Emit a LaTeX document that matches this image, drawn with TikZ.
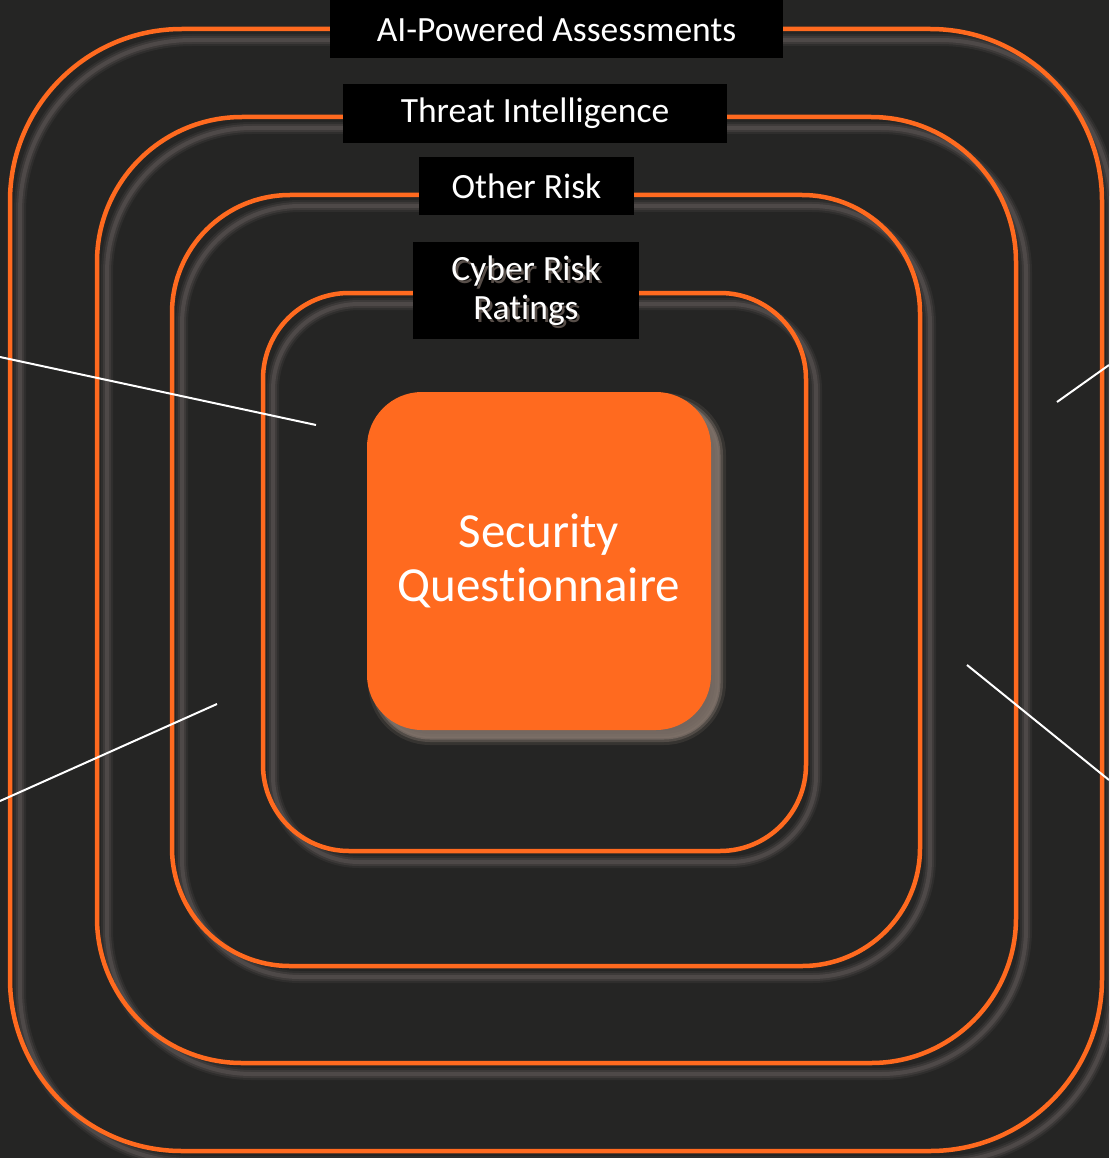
\documentclass[tikz,border=0pt]{standalone}
\usepackage{fontspec}
\setmainfont{Carlito}[RawFeature=-liga]
\definecolor{bgdark}{RGB}{37,37,36}
\definecolor{ringorange}{RGB}{255,106,31}
\definecolor{glowgray}{RGB}{96,88,88}
\definecolor{boxshade}{RGB}{125,112,104}
\tikzset{
  ring/.style={draw=ringorange, line width=4.5pt, rectangle, inner sep=0pt},
  ringglow/.style={draw=glowgray, rectangle, inner sep=0pt},
  tagfont/.style={font=\fontsize{35.5}{39}\selectfont},
  tag/.style={fill=black, text=white, tagfont, inner sep=0pt, align=center},
  pointer/.style={draw=white, line width=2pt},
}

\begin{document}
\begin{tikzpicture}[x=1pt, y=-1pt]
  \fill[bgdark] (0,0) rectangle (1109,1158);
  \useasboundingbox (0,0) rectangle (1109,1158);
  \clip (0,0) rectangle (1109,1158);

  % soft shade under each ring, then the ring
  \foreach \n/\cx/\cy/\w/\h/\r in {1/556/590/1092/1122/172, 2/556.5/590/919/946/145,
      3/546/580.5/748/771/118, 4/534.5/572/543/558/86} {
    \foreach \lw/\op in {12/0.18, 8/0.3, 4/0.5}
      \node[ringglow, line width=\lw*1pt, opacity=\op, minimum width=\w*1pt,
            minimum height=\h*1pt, rounded corners=\r*1pt] at (\cx+10,\cy+11) {};
    \node[ring, minimum width=\w*1pt, minimum height=\h*1pt, rounded corners=\r*1pt] (r\n) at (\cx,\cy) {};
  }

  % centre block
  \foreach \lw/\op in {14/0.2, 8/0.4, 3/0.75}
    \node[draw=boxshade, fill=boxshade, line width=\lw*1pt, opacity=\op, minimum width=344pt,
          minimum height=338pt, rounded corners=55pt, inner sep=0pt] at (547,569) {};
  \node[fill=ringorange, text=white, minimum width=344pt, minimum height=338pt, rounded corners=55pt,
        inner sep=0pt, align=center, font=\fontsize{49}{54}\selectfont] (sq) at (539,561) {Security\\Questionnaire};

  % labels on the rings
  \node[tag, minimum width=453pt, minimum height=58pt] (ai) at (556.5,29) {AI-Powered Assessments};
  \node[tag, minimum width=384pt, minimum height=59pt] (ti) at (535,113.5) {Threat Intelligence};
  \node[tag, minimum width=215pt, minimum height=58pt] (or) at (526.5,186) {Other Risk};
  \node[tag, minimum width=226pt, minimum height=97pt] (cr) at (526,290.5) {};
  \node[text=boxshade, opacity=0.7, align=center, tagfont, inner sep=0pt]
    at (528.5,293.5) {Cyber Risk\\Ratings};
  \node[text=white, align=center, tagfont, inner sep=0pt] (crt) at (cr) {Cyber Risk\\Ratings};

  % pointer lines
  \coordinate (p1a) at (0,357);    \coordinate (p1b) at (316,425);
  \coordinate (p2a) at (0,801);    \coordinate (p2b) at (217,704);
  \coordinate (p3a) at (1109,365); \coordinate (p3b) at (1057,402);
  \coordinate (p4a) at (1109,780); \coordinate (p4b) at (967,665);
  \draw[pointer] (p1a) -- (p1b);
  \draw[pointer] (p2a) -- (p2b);
  \draw[pointer] (p3a) -- (p3b);
  \draw[pointer] (p4a) -- (p4b);
\end{tikzpicture}
\end{document}
